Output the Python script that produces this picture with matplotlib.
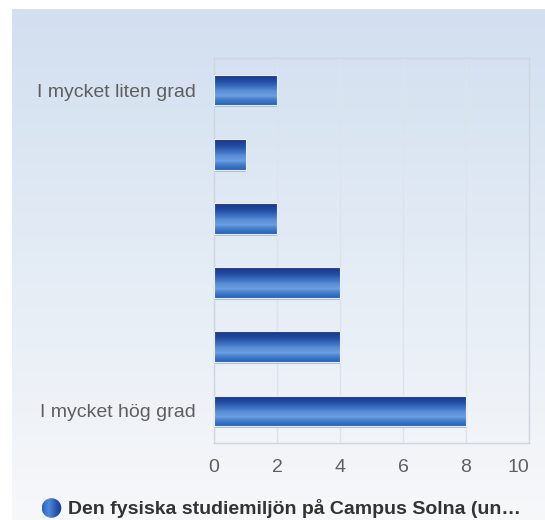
import matplotlib
matplotlib.use("Agg")
import matplotlib.pyplot as plt
import numpy as np
from matplotlib.colors import LinearSegmentedColormap

plt.rcParams['font.family'] = ['Liberation Sans', 'DejaVu Sans']

categories = ["I mycket liten grad", "", "", "", "", "I mycket hög grad"]
values = [2, 1, 2, 4, 4, 8]
xticks = [0, 2, 4, 6, 8, 10]
series_name = "Den fysiska studiemiljön på Campus Solna (un…"

W, H = 545, 520
fig = plt.figure(figsize=(W / 100, H / 100), dpi=100)
fig.patch.set_facecolor("white")

# background gradient panel
bg = fig.add_axes([12 / W, 0, 1 - 12 / W, (H - 9) / H])
bg_cmap = LinearSegmentedColormap.from_list("bg", ["#d2dff0", "#e4ecf5", "#f7f8fa"])
bg.imshow(np.linspace(0, 1, 256).reshape(-1, 1), aspect="auto", cmap=bg_cmap,
          extent=(0, 1, 0, 1), origin="upper")
bg.set_axis_off()

# main axes
left, right, top, bottom = 214, 529, 58, 443
ax = fig.add_axes([left / W, 1 - bottom / H, (right - left) / W, (bottom - top) / H])
ax.patch.set_alpha(0)

y = np.arange(len(categories))
bars = ax.barh(y, values, height=0.48, color="none", edgecolor="none", zorder=3)

bar_cmap = LinearSegmentedColormap.from_list(
    "bar", [(0.0, "#1c3482"), (0.25, "#2350a8"), (0.55, "#5a8fd6"),
            (0.7, "#6c9edf"), (0.85, "#3f78c8"), (1.0, "#2563b8")])
grad = np.linspace(0, 1, 128).reshape(-1, 1)

ax.set_xlim(0, 10)
ax.set_ylim(len(categories) - 0.5, -0.5)

for b in bars:
    x0, y0 = b.get_x(), b.get_y()
    w, h = b.get_width(), b.get_height()
    ax.add_patch(plt.Rectangle((x0, y0 + h), w, 0.03, color="#a9bedc", zorder=2, lw=0))
    im = ax.imshow(grad, aspect="auto", cmap=bar_cmap, extent=(x0, x0 + w, y0 + h, y0),
                   origin="upper", zorder=3)
    im.set_clip_path(b)
    ax.add_patch(plt.Rectangle((x0, y0), w, h, fill=False, edgecolor="#e8eef7", lw=0.8, zorder=4))

ax.set_xlim(0, 10)
ax.set_ylim(len(categories) - 0.5, -0.5)
ax.set_xticks(xticks)
ax.set_xticklabels([str(t) for t in xticks])
ax.set_yticks(y)
ax.set_yticklabels(categories)
ax.tick_params(axis="both", length=0, labelsize=14, colors="#5f5f5f")
ax.tick_params(axis="y", pad=13)
ax.tick_params(axis="x", pad=11.5)
# last label justified inside the plot edge
ax.get_xticklabels()[-1].set_horizontalalignment("right")
ax.grid(axis="x", color="#dde3ec", lw=1, zorder=0)
ax.set_axisbelow(True)
for s in ax.spines.values():
    s.set_color("#cfd6e0")
    s.set_linewidth(1)

# legend
fig.text(68 / W, 1 - 508 / H, series_name, fontsize=14, fontweight="bold",
         color="#333333", va="center", ha="left")
lg = fig.add_axes([41.5 / W, 1 - 518 / H, 20 / W, 20 / H])
lg.set_xlim(-1, 1)
lg.set_ylim(-1, 1)
lg.set_aspect("equal")
lg.set_axis_off()
circ = plt.Circle((0, 0), 0.98, color="none")
lg.add_patch(circ)
hcm = LinearSegmentedColormap.from_list("h", ["#2a62c0", "#4f8ada", "#2c5cb4", "#1a3585"])
cim = lg.imshow(np.linspace(0, 1, 64).reshape(1, -1), cmap=hcm, extent=(-1, 1, -1, 1), aspect="auto")
cim.set_clip_path(circ)

fig.savefig("out.png", dpi=100)
